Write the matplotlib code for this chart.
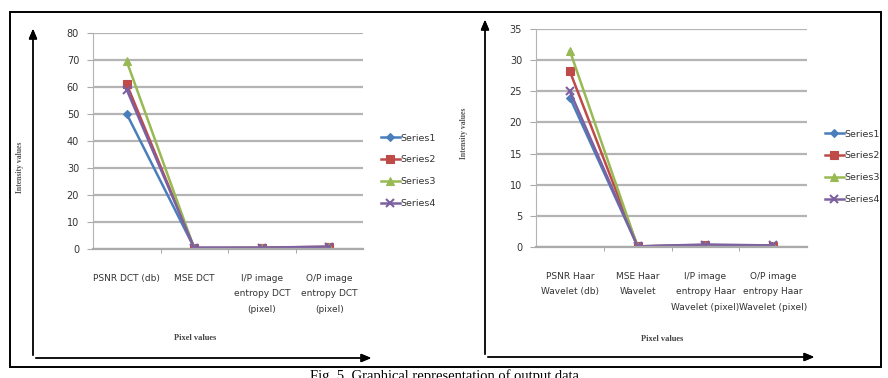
import matplotlib
matplotlib.use("Agg")
import matplotlib.pyplot as plt
from matplotlib.patches import Rectangle
import numpy as np

# categories for the two panels
dct_labels = ["PSNR DCT (db)", "MSE DCT", "I/P image\nentropy DCT\n(pixel)", "O/P image\nentropy DCT\n(pixel)"]
haar_labels = ["PSNR Haar\nWavelet (db)", "MSE Haar\nWavelet", "I/P image\nentropy Haar\nWavelet (pixel)",
               "O/P image\nentropy Haar\nWavelet (pixel)"]

series_names = ["Series1", "Series2", "Series3", "Series4"]

# values
dct_s1 = [50, 0.4, 0.3, 0.6]
dct_s2 = [61, 0.3, 0.5, 0.8]
dct_s3 = [69.5, 0.2, 0.4, 0.7]
dct_s4 = [59, 0.5, 0.5, 0.9]

haar_s1 = [24, 0.1, 0.3, 0.2]
haar_s2 = [28.2, 0.1, 0.3, 0.2]
haar_s3 = [31.5, 0.05, 0.2, 0.15]
haar_s4 = [25, 0.1, 0.4, 0.25]

colors = ["#4A7EBB", "#BE4B48", "#98B954", "#7D60A0"]
markers = ["D", "s", "^", "x"]
msizes = [4.5, 6, 6, 6]

W, H = 888, 378
fig = plt.figure(figsize=(W / 100, H / 100), dpi=100)
plt.rcParams['font.family'] = ['Liberation Sans Narrow', 'DejaVu Sans']

def px(x, y):
    # pixel (from top-left) -> figure fraction
    return x / W, 1 - y / H

def panel(rect, labels, data, ymax, ystep, legend_xy):
    ax = fig.add_axes(rect)
    x = np.arange(len(labels))
    handles = []
    for vals, c, m, ms, name in zip(data, colors, markers, msizes, series_names):
        h, = ax.plot(x, vals, color=c, lw=1.8, marker=m, ms=ms, mew=1.5 if m == "x" else 0.8,
                     mec=c, label=name)
        handles.append(h)
    ax.set_xlim(-0.5, len(labels) - 0.5)
    ax.set_ylim(0, ymax)
    ax.set_yticks(np.arange(0, ymax + 0.1, ystep))
    ax.set_xticks(x)
    ax.set_xticklabels(labels, fontsize=6.5, color="#333333", linespacing=1.9, va="top")
    ax.set_xticks(np.arange(0.5, len(labels) - 0.5), minor=True)
    ax.tick_params(axis="x", which="major", length=0, pad=18)
    ax.tick_params(axis="x", which="minor", length=3, color="#999999")
    ax.tick_params(axis="y", length=4, color="#aaaaaa", labelsize=7, labelcolor="#333333", pad=6)
    ax.grid(axis="y", color="#b4b4b4", lw=1.6)
    ax.set_axisbelow(True)
    for s in ["top", "right"]:
        ax.spines[s].set_visible(False)
    ax.spines["left"].set_color("#b4b4b4")
    ax.spines["bottom"].set_color("#aaaaaa")
    ax.spines["bottom"].set_linewidth(1.6)
    fig.legend(handles=handles, loc="upper left", bbox_to_anchor=px(*legend_xy), frameon=False,
               fontsize=6.8, handlelength=2.0, handletextpad=0.1, labelspacing=1.35,
               borderpad=0, labelcolor="#333333")
    return ax

panel([93 / W, 1 - 249 / H, 270 / W, 216 / H], dct_labels, [dct_s1, dct_s2, dct_s3, dct_s4], 80, 10,
      (376, 129))
panel([536 / W, 1 - 247 / H, 271 / W, 218 / H], haar_labels, [haar_s1, haar_s2, haar_s3, haar_s4], 35, 5,
      (820, 125))

# hand-drawn style axes arrows around each chart
arrow = dict(arrowstyle="-|>,head_length=0.6,head_width=0.25", color="black", lw=1.0)
for (x0, y0, ytop, xright) in [(33, 358, 26, 374), (485, 357, 17, 817)]:
    fig.add_artist(plt.annotate("", xy=px(x0, ytop), xytext=px(x0, y0), xycoords="figure fraction",
                                textcoords="figure fraction", arrowprops=arrow))
    fig.add_artist(plt.annotate("", xy=px(xright, y0), xytext=px(x0, y0), xycoords="figure fraction",
                                textcoords="figure fraction", arrowprops=arrow))

# axis titles
for xl, xp in [((20, 167), (195, 338)), ((464, 133), (662, 339))]:
    fig.text(*px(*xl), "Intensity values", rotation=90, ha="center", va="center", fontsize=5.5,
             family="Liberation Serif", weight="bold", color="#555555")
    fig.text(*px(*xp), "Pixel values", ha="center", va="center", fontsize=6,
             family="Liberation Serif", weight="bold", color="#444444")

# outer frame
fig.add_artist(Rectangle(px(10, 367), 871 / W, 355 / H, transform=fig.transFigure, fill=False,
                         ec="black", lw=1.4))

# caption, cut off at the bottom edge like the source
fig.text(444 / W, 1 - 369 / H, "Fig. 5. Graphical representation of output data", ha="center", va="top",
         fontsize=10.5, family="Liberation Serif")

fig.savefig("out.png", dpi=100)
